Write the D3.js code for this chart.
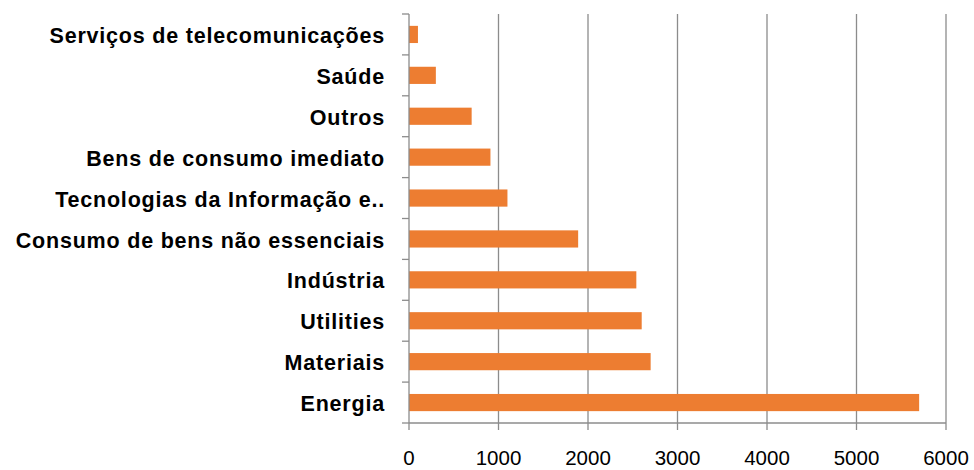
<!DOCTYPE html>
<html><head><meta charset="utf-8">
<script src="https://cdn.jsdelivr.net/npm/d3@7"></script>
<style>body{margin:0;background:#fff}</style>
</head><body>
<svg id="c" width="974" height="470"></svg>
<script>
const categories = ["Serviços de telecomunicações","Saúde","Outros","Bens de consumo imediato","Tecnologias da Informação e..","Consumo de bens não essenciais","Indústria","Utilities","Materiais","Energia"];
const values = [100,300,700,910,1100,1890,2540,2600,2700,5700];
const xTicks = [0,1000,2000,3000,4000,5000,6000];

const svg = d3.select("#c");
const m = {left:409, right:28, top:14, bottom:47};
const W = 974, H = 470;
const x = d3.scaleLinear().domain([0,6000]).range([m.left, W-m.right]);
const y = d3.scaleBand().domain(categories).range([m.top, H-m.bottom]).paddingInner(0.58).paddingOuter(0.29);
const band = d3.scaleBand().domain(categories).range([m.top, H-m.bottom]);

// gridlines
svg.append("g").selectAll("line").data(xTicks.slice(1)).join("line")
  .attr("x1",d=>x(d)).attr("x2",d=>x(d)).attr("y1",m.top).attr("y2",H-m.bottom)
  .attr("stroke","#8c8c8c").attr("stroke-width",1.3);

// bars
svg.append("g").selectAll("rect").data(values).join("rect")
  .attr("x",x(0)).attr("y",(d,i)=>y(categories[i]))
  .attr("width",d=>x(d)-x(0)).attr("height",y.bandwidth())
  .attr("fill","#ED7D31");

// y axis
const yAxisG = svg.append("g");
yAxisG.append("line").attr("x1",x(0)).attr("x2",x(0)).attr("y1",m.top).attr("y2",H-m.bottom).attr("stroke","#8c8c8c").attr("stroke-width",1.3);
const bounds = categories.map(c=>band(c)).concat([H-m.bottom]);
yAxisG.selectAll("line.t").data(bounds).join("line").attr("class","t")
  .attr("x1",x(0)-7).attr("x2",x(0)).attr("y1",d=>d).attr("y2",d=>d).attr("stroke","#8c8c8c").attr("stroke-width",1.3);
yAxisG.selectAll("text").data(categories).join("text")
  .attr("x",385).attr("y",c=>band(c)+band.bandwidth()/2).attr("dy","0.4em")
  .attr("text-anchor","end").attr("font-family","Liberation Sans, Arial, sans-serif")
  .attr("font-weight","bold").attr("font-size",21.5).attr("letter-spacing","0.8px").attr("fill","#000")
  .text(d=>d);

// x axis
const xAxisG = svg.append("g");
xAxisG.append("line").attr("x1",x(0)).attr("x2",x(6000)).attr("y1",H-m.bottom).attr("y2",H-m.bottom).attr("stroke","#8c8c8c").attr("stroke-width",1.3);
xAxisG.selectAll("line.t").data(xTicks).join("line").attr("class","t")
  .attr("x1",d=>x(d)).attr("x2",d=>x(d)).attr("y1",H-m.bottom).attr("y2",H-m.bottom+7).attr("stroke","#8c8c8c").attr("stroke-width",1.3);
xAxisG.selectAll("text").data(xTicks).join("text")
  .attr("x",d=>x(d)).attr("y",465).attr("text-anchor","middle")
  .attr("font-family","Liberation Sans, Arial, sans-serif").attr("font-size",20.5).attr("fill","#000")
  .text(d=>d);
</script>
</body></html>
